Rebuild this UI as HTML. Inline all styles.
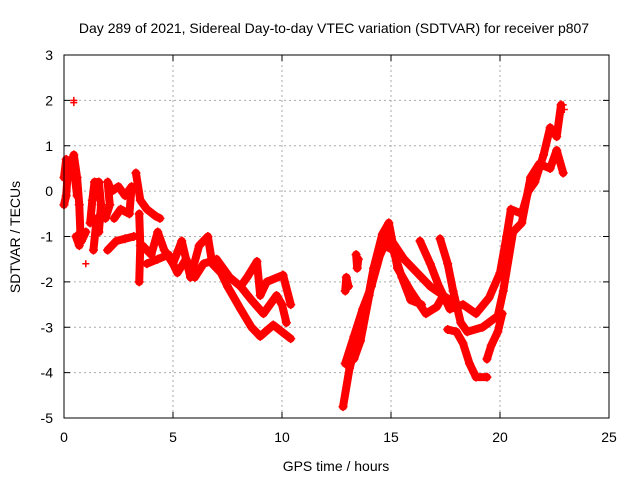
<!DOCTYPE html>
<html><head><meta charset="utf-8"><style>
body{margin:0;background:#fff}
svg{display:block;font-family:"Liberation Sans",sans-serif}
</style></head><body>
<svg id="chart" width="640" height="480" viewBox="0 0 640 480">
<rect width="640" height="480" fill="#fff"/>
<text x="334" y="33" font-size="14" text-anchor="middle">Day 289 of 2021, Sidereal Day-to-day VTEC variation (SDTVAR) for receiver p807</text>
<text x="336" y="471" font-size="14" text-anchor="middle">GPS time / hours</text>
<text x="20" y="237" font-size="14" text-anchor="middle" transform="rotate(-90 20 237)">SDTVAR / TECUs</text>
<g id="grid"></g>
<g id="ticks"></g>
<g id="series"></g>
<rect x="64" y="55" width="545" height="363" fill="none" stroke="#000" stroke-width="1"/>
</svg>
<script>
const xTicks=[0,5,10,15,20,25];
const yTicks=[-5,-4,-3,-2,-1,0,1,2,3];
const t1=[[0,0.3],[0.1,0.7],[0.3,0.5],[0.45,0.8],[0.6,0.3],[0.7,-0.3],[0.75,-0.9],[0.7,-1.2],[0.55,-1],[0.8,-1.1],[1,-0.9]];
const t1b=[[0,-0.3],[0.1,-0.1],[0.2,0.6],[0.35,0.7],[0.5,0.3],[0.6,-0.1]];
const t2=[[1.2,-0.7],[1.3,-0.2],[1.4,0.2],[1.6,0.2],[1.7,-0.3],[1.6,-0.9],[1.5,-0.6],[1.35,-1.3]];
const t3=[[1.9,-0.6],[2.1,-0.3],[2.0,0.2],[2.2,0],[2.5,0.1],[2.8,-0.1],[3.1,0.1],[3,-0.5],[2.6,-0.4],[2.3,-0.6]];
const tC=[[3.3,0.4],[3.5,-0.2],[3.8,-0.4],[4.2,-0.55],[4.4,-0.6]];
const tB=[[2,-1.3],[2.4,-1.1],[2.8,-1.05],[3.2,-1]];
const tV=[[3.45,-0.5],[3.5,-1.2],[3.45,-2]];
const blob1=[[3.6,-1.2],[4,-1.4],[4.3,-0.9],[4.6,-1.3],[5,-1.6],[5.4,-1.1],[5.8,-1.9],[6.2,-1.2],[6.6,-1],[6.8,-1.6],[7.2,-1.8],[7.5,-2.1]];
const blob2=[[3.8,-1.6],[4.3,-1.5],[4.8,-1.4],[5.2,-1.8],[5.6,-1.5],[6,-1.9],[6.4,-1.6],[7,-1.5],[7.6,-1.9],[8.1,-2.1],[8.4,-1.9],[8.85,-1.55],[9,-2.3],[9.3,-2],[10.05,-1.85],[10.4,-2.5]];
const loop1=[[7.5,-2.1],[8.1,-2.6],[8.6,-3],[9,-3.2],[9.6,-2.95],[10.4,-3.25]];
const loop2=[[8.1,-2.1],[8.6,-2.4],[9.15,-2.7],[9.75,-2.3],[10,-2.5],[10.2,-2.9]];
const rise1=[[12.8,-4.75],[13.1,-3.9],[13.4,-3.4],[13.7,-3.0],[14.2,-1.7],[14.6,-0.95],[14.9,-0.7],[15.3,-1.7],[15.9,-2.2],[16.6,-2.7],[17.1,-2.55],[17.4,-2.3]];
const rise2=[[12.9,-3.8],[13.3,-3.2],[13.7,-2.6],[14.1,-2.1],[14.5,-1.4],[14.9,-1.0],[15.6,-1.5],[16,-1.7],[16.8,-2.1],[17.4,-2.3],[18,-2.5]];
const rise3=[[13.3,-3.7],[13.6,-3.3],[14,-2.3],[14.3,-1.6],[14.7,-1.2],[15.1,-1.3],[15.5,-1.9],[15.9,-2.4],[16.4,-2.5]];
const bits=[[12.9,-2.2],[12.95,-1.9],[13.05,-2.1]];
const bits2=[[13.4,-1.4],[13.45,-1.7],[13.5,-1.5]];
const tD=[[16.33,-1.1],[16.8,-1.6],[17.2,-2.1],[17.7,-2.6],[18.3,-2.5],[18.9,-2.7],[19.5,-2.35],[20,-1.8],[20.3,-1],[20.5,-0.4],[21,-0.5],[21.3,0],[21.6,0.2],[22,0.8],[22.3,1.4],[22.6,1.2],[22.8,1.9]];
const tE=[[17.25,-1.05],[17.6,-1.6],[17.85,-2.2],[18.2,-2.9],[18.5,-3.1],[19.2,-3],[19.9,-2.75],[20.15,-2.2],[20.6,-0.9],[21,-0.7],[21.4,0.3],[21.8,0.6],[22.3,0.5],[22.6,0.9],[22.9,0.4]];
const tF=[[17.6,-3.05],[18,-3.1],[18.3,-3.35],[18.6,-3.8],[18.9,-4.1],[19.4,-4.1]];
const tG=[[19.4,-3.7],[19.6,-3.4],[19.9,-3.1],[20.1,-2.7]];
const tracks=[t1,t1b,t2,t3,tC,tB,tV,blob1,blob2,loop1,loop2,rise1,rise2,rise3,bits,bits2,tD,tE,tF,tG];
const X=v=>64+v*545/25, Y=v=>418-(v+5)*363/8;
const NS="http://www.w3.org/2000/svg";
const g=document.getElementById('grid'),t=document.getElementById('ticks'),s=document.getElementById('series');
function mk(tag,at,p){const e=document.createElementNS(NS,tag);for(const k in at)e.setAttribute(k,at[k]);p.appendChild(e);return e;}
xTicks.forEach(v=>{const x=X(v);
 if(v>0&&v<25){const l=mk('line',{x1:x,x2:x,y1:55,y2:418,stroke:'#aaa','stroke-dasharray':'2,3'},g);
 
 }
 mk('line',{x1:x,x2:x,y1:418,y2:412,stroke:'#000'},t);mk('line',{x1:x,x2:x,y1:55,y2:61,stroke:'#000'},t);
 const tx=mk('text',{x:x,y:442,'font-size':14,'text-anchor':'middle'},t);tx.textContent=v;
 
 });
yTicks.forEach(v=>{const y=Y(v);
 if(v>-5&&v<3){const l=mk('line',{x1:64,x2:609,y1:y,y2:y,stroke:'#aaa','stroke-dasharray':'2,3'},g);
 
 }
 mk('line',{x1:64,x2:70,y1:y,y2:y,stroke:'#000'},t);mk('line',{x1:609,x2:603,y1:y,y2:y,stroke:'#000'},t);
 const tx=mk('text',{x:53,y:y+5,'font-size':14,'text-anchor':'end'},t);tx.textContent=v;
 
 });
tracks.forEach(tr=>{
 const pl=mk('polyline',{points:tr.map(p=>X(p[0])+','+Y(p[1])).join(' '),fill:'none',stroke:'#f00','stroke-width':8,'stroke-linejoin':'round','stroke-linecap':'round'},s);
 
 
 tr.forEach(p=>{const x=X(p[0]),y=Y(p[1]);
  const m=mk('path',{d:`M${x-4.5},${y}h9M${x},${y-4.5}v9`,stroke:'#f00','stroke-width':1.5},s);
  
  });
});
[[0.45,2],[0.45,1.95],[1,-1.6],[22.9,1.9],[22.95,1.8]].forEach(p=>{const x=X(p[0]),y=Y(p[1]);
 const m=mk('path',{d:`M${x-3.5},${y}h7M${x},${y-3.5}v7`,stroke:'#f00','stroke-width':1.5},s);
 
 });
</script>
</body></html>
